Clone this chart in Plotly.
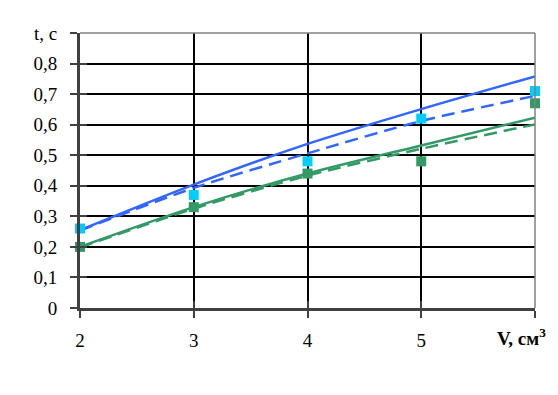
import plotly.graph_objects as go

# ---- data ----
V = [2, 3, 4, 5, 6]
t_blue_points = [0.26, 0.37, 0.48, 0.62, 0.71]
t_green_points = [0.20, 0.33, 0.44, 0.48, 0.67]
t_blue_solid = [0.255, 0.404, 0.537, 0.651, 0.758]
t_blue_dash = [0.253, 0.393, 0.506, 0.612, 0.694]
t_green_solid = [0.200, 0.330, 0.440, 0.532, 0.623]
t_green_dash = [0.198, 0.325, 0.433, 0.521, 0.601]

x_tickvals = [2, 3, 4, 5, 6]
x_ticktext = ["2", "3", "4", "5", " "]
y_tickvals = [0, 0.1, 0.2, 0.3, 0.4, 0.5, 0.6, 0.7, 0.8, 0.9]
y_ticktext = ["0", "0,1", "0,2", "0,3", "0,4", "0,5", "0,6", "0,7", "0,8", "t, c"]

BLUE = "#3366FF"
CYAN = "#00CCFF"
GREEN = "#339966"
AX = "#404040"
FONT = dict(family="Liberation Serif", size=19, color="black")

line_common = dict(width=2.5, shape="spline", smoothing=0.8)
fig = go.Figure()
fig.add_trace(go.Scatter(x=V, y=t_blue_solid, mode="lines", line=dict(color=BLUE, **line_common), cliponaxis=False))
fig.add_trace(go.Scatter(x=V, y=t_blue_dash, mode="lines", line=dict(color=BLUE, dash="13px,7px", **line_common), cliponaxis=False))
fig.add_trace(go.Scatter(x=V, y=t_green_solid, mode="lines", line=dict(color=GREEN, **line_common), cliponaxis=False))
fig.add_trace(go.Scatter(x=V, y=t_green_dash, mode="lines", line=dict(color=GREEN, dash="13px,7px", **line_common), cliponaxis=False))
fig.add_trace(go.Scatter(x=V, y=t_blue_points, mode="markers", marker=dict(symbol="square", size=10, color=CYAN), cliponaxis=False))
fig.add_trace(go.Scatter(x=V, y=t_green_points, mode="markers", marker=dict(symbol="square", size=10, color=GREEN), cliponaxis=False))
# helper trace for inner-tick axes
fig.add_trace(go.Scatter(x=V, y=t_green_points, xaxis="x2", yaxis="y2", mode="markers", marker=dict(opacity=0), hoverinfo="skip"))

fig.update_layout(
    width=558, height=395,
    margin=dict(l=80, r=23, t=33, b=87),
    paper_bgcolor="white", plot_bgcolor="white",
    showlegend=False,
    font=FONT,
    xaxis=dict(range=[2, 6], tickvals=x_tickvals, ticktext=x_ticktext,
               showgrid=True, gridcolor="black", gridwidth=1.7, zeroline=False,
               showline=True, linecolor=AX, linewidth=3,
               ticks="outside", ticklen=7, tickwidth=2, tickcolor=AX,
               ticklabelstandoff=6, tickfont=FONT),
    yaxis=dict(range=[0, 0.9], tickvals=y_tickvals, ticktext=y_ticktext,
               showgrid=True, gridcolor="black", gridwidth=1.7, zeroline=False,
               showline=True, linecolor=AX, linewidth=3,
               ticks="outside", ticklen=7, tickwidth=2, tickcolor=AX,
               ticklabelstandoff=9, tickfont=FONT),
    xaxis2=dict(range=[2, 6], tickvals=x_tickvals, overlaying="x", anchor="y2", side="bottom",
                showgrid=False, zeroline=False, showline=False, showticklabels=False,
                ticks="inside", ticklen=7, tickwidth=2, tickcolor=AX),
    yaxis2=dict(range=[0, 0.9], tickvals=y_tickvals, overlaying="y", anchor="x2", side="left",
                showgrid=False, zeroline=False, showline=False, showticklabels=False,
                ticks="inside", ticklen=7, tickwidth=2, tickcolor=AX),
    shapes=[
        dict(type="line", xref="paper", yref="paper", x0=0, x1=1, y0=1, y1=1, line=dict(color="#808080", width=1.5)),
        dict(type="line", xref="paper", yref="paper", x0=1, x1=1, y0=0, y1=1, line=dict(color="#808080", width=1.5)),
    ],
    annotations=[
        dict(text="<b>V, см<sup>3</sup></b>", xref="paper", yref="paper", x=1.028, y=0,
             xanchor="right", yanchor="middle", yshift=-29, showarrow=False, font=FONT),
    ],
)

fig.write_html("out.html")
